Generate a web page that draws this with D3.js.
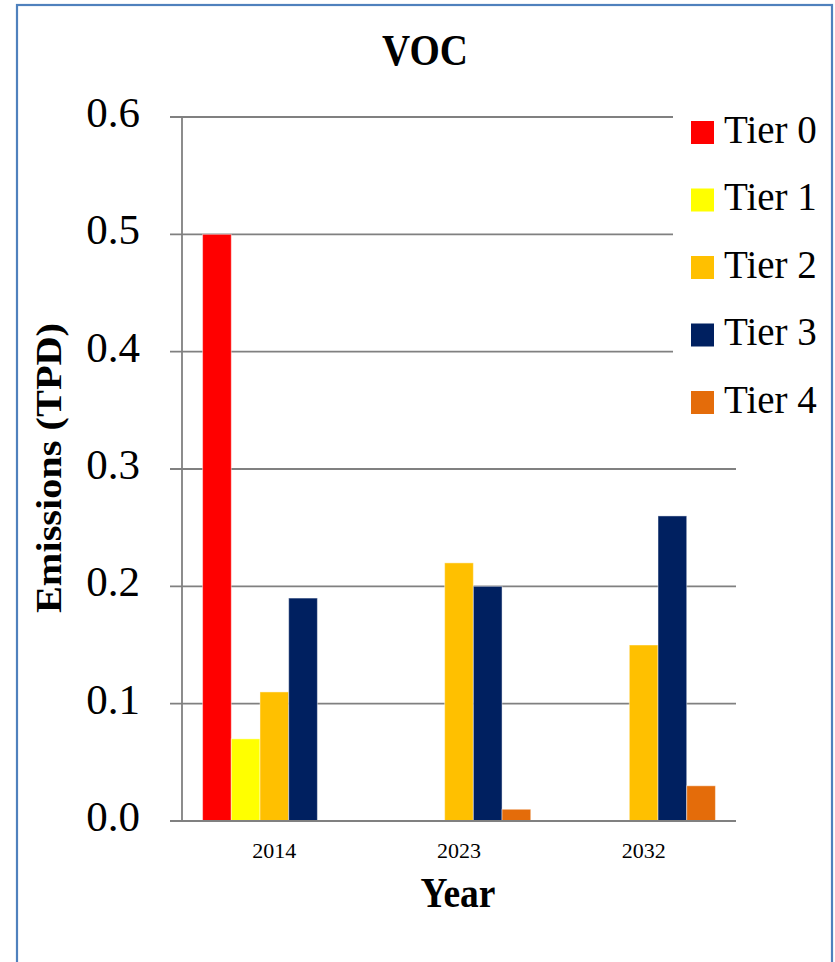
<!DOCTYPE html>
<html>
<head>
<meta charset="utf-8">
<script src="https://cdn.jsdelivr.net/npm/d3@7/dist/d3.min.js"></script>
<style>
  html, body { margin: 0; padding: 0; background: #fff; }
  svg { display: block; }
  text { font-family: "Liberation Serif", "Times New Roman", serif; fill: #000; }
</style>
</head>
<body>
<svg id="chart" width="835" height="962"></svg>
<script>
// Emission data by year and engine tier (tons per day)
const years = ["2014", "2023", "2032"];
const tiers = ["Tier 0", "Tier 1", "Tier 2", "Tier 3", "Tier 4"];
const tier0 = [0.50, 0, 0];
const tier1 = [0.07, 0, 0];
const tier2 = [0.11, 0.22, 0.15];
const tier3 = [0.19, 0.20, 0.26];
const tier4 = [0, 0.01, 0.03];
const tierColors = ["#FF0000", "#FFFF00", "#FFC000", "#002060", "#E46C0A"];
const yTicks = [0, 0.1, 0.2, 0.3, 0.4, 0.5, 0.6];

const seriesValues = [tier0, tier1, tier2, tier3, tier4];
const rows = [];
years.forEach((yr, i) => {
  tiers.forEach((t, j) => rows.push({ year: yr, tier: t, value: seriesValues[j][i], color: tierColors[j] }));
});

const svg = d3.select("#chart");
const plot = { left: 182, right: 736, top: 117, bottom: 821 };

const x0 = d3.scaleBand().domain(years).range([plot.left, plot.right]).padding(0);
const x1 = d3.scaleBand().domain(tiers).range([0, x0.bandwidth()]).paddingInner(0).paddingOuter(0.717);
const y = d3.scaleLinear().domain([0, 0.6]).range([plot.bottom, plot.top]);

// outer frame
svg.append("rect")
  .attr("x", 17).attr("y", 5).attr("width", 815).attr("height", 990)
  .attr("fill", "none").attr("stroke", "#4F81BD").attr("stroke-width", 2.2);

// horizontal gridlines with short ticks to the left of the axis
svg.append("g").selectAll("line").data(yTicks).join("line")
  .attr("x1", plot.left - 12).attr("x2", plot.right)
  .attr("y1", d => y(d)).attr("y2", d => y(d))
  .attr("stroke", "#808080").attr("stroke-width", 1.8);

// bars
svg.append("g").selectAll("rect").data(rows.filter(d => d.value > 0)).join("rect")
  .attr("x", d => x0(d.year) + x1(d.tier))
  .attr("width", x1.bandwidth())
  .attr("y", d => y(d.value))
  .attr("height", d => y(0) - y(d.value))
  .attr("fill", d => d.color)
  .attr("stroke", "rgba(255,255,255,0.45)").attr("stroke-width", 1);

// axis lines
svg.append("line")
  .attr("x1", plot.left).attr("x2", plot.left)
  .attr("y1", plot.top).attr("y2", plot.bottom)
  .attr("stroke", "#808080").attr("stroke-width", 1.8);
svg.append("line")
  .attr("x1", plot.left - 12).attr("x2", plot.right)
  .attr("y1", y(0)).attr("y2", y(0))
  .attr("stroke", "#808080").attr("stroke-width", 2);

// y tick labels
svg.append("g").selectAll("text").data(yTicks).join("text")
  .attr("x", 140).attr("y", d => y(d) + 10)
  .attr("text-anchor", "end")
  .style("font-size", "43px")
  .text(d => d3.format(".1f")(d));

// x category labels
svg.append("g").selectAll("text").data(years).join("text")
  .attr("x", d => x0(d) + x0.bandwidth() / 2).attr("y", 858)
  .attr("text-anchor", "middle")
  .style("font-size", "22px")
  .text(d => d);

// title
svg.append("text")
  .attr("transform", "translate(425,65) scale(1,1.13)")
  .attr("text-anchor", "middle")
  .style("font-size", "39px").style("font-weight", "bold")
  .text("VOC");

// axis titles
svg.append("text")
  .attr("transform", "translate(458,907) scale(1,1.1)")
  .attr("text-anchor", "middle")
  .style("font-size", "37.5px").style("font-weight", "bold")
  .text("Year");
svg.append("text")
  .attr("transform", "translate(61,468) rotate(-90) scale(1.12,1)")
  .attr("text-anchor", "middle")
  .style("font-size", "36px").style("font-weight", "bold")
  .text("Emissions (TPD)");

// legend
const legend = svg.append("g");
legend.append("rect")
  .attr("x", 673).attr("y", 100).attr("width", 157).attr("height", 335)
  .attr("fill", "#fff");
const legendY = d3.scalePoint().domain(tiers).range([132.5, 402.5]);
const items = legend.selectAll("g.item").data(tiers).join("g").attr("class", "item");
items.append("rect")
  .attr("x", 691).attr("y", d => legendY(d) - 11.5)
  .attr("width", 23).attr("height", 23)
  .attr("fill", (d, i) => tierColors[i]);
items.append("text")
  .attr("x", 724).attr("y", d => legendY(d) + 10)
  .style("font-size", "39px")
  .text(d => d);
</script>
</body>
</html>
